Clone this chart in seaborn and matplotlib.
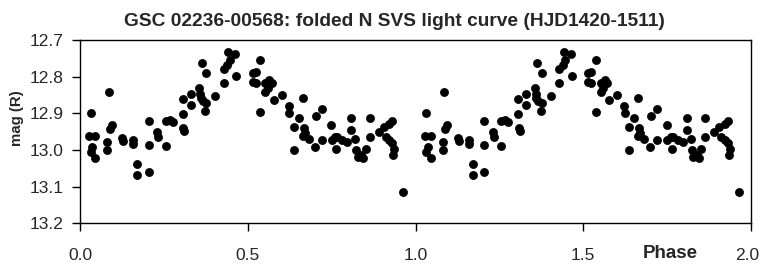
import numpy as np
import pandas as pd
import matplotlib
matplotlib.use("Agg")
import matplotlib.pyplot as plt
import matplotlib.transforms as mtransforms
from matplotlib import font_manager
import seaborn as sns

# Folded light curve, one cycle; plotted twice (phase, phase + 1)
phase = [0.027, 0.032, 0.032, 0.036, 0.046, 0.046, 0.082, 0.082, 0.086, 0.089,
         0.094, 0.126, 0.129, 0.158, 0.158, 0.171, 0.171, 0.205, 0.205, 0.205,
         0.231, 0.233, 0.255, 0.256, 0.268, 0.276, 0.306, 0.306, 0.308, 0.310,
         0.330, 0.330, 0.356, 0.358, 0.360, 0.363, 0.366, 0.373, 0.376, 0.376,
         0.403, 0.428, 0.428, 0.439, 0.442, 0.447, 0.462, 0.465, 0.515, 0.515,
         0.524, 0.524, 0.537, 0.537, 0.552, 0.552, 0.560, 0.564, 0.572, 0.577,
         0.602, 0.622, 0.624, 0.637, 0.637, 0.652, 0.664, 0.664, 0.667, 0.670,
         0.682, 0.700, 0.702, 0.720, 0.720, 0.749, 0.751, 0.761, 0.763, 0.766,
         0.781, 0.796, 0.808, 0.808, 0.821, 0.824, 0.828, 0.838, 0.844, 0.851,
         0.864, 0.864, 0.891, 0.906, 0.911, 0.921, 0.921, 0.931, 0.931, 0.934,
         0.936, 0.964]
mag = [12.962, 12.899, 13.005, 12.993, 12.962, 13.021, 12.978, 13.000, 12.841, 12.944,
       12.932, 12.966, 12.975, 12.973, 12.984, 13.039, 13.069, 13.060, 12.920, 12.987,
       12.950, 12.964, 12.920, 12.990, 12.919, 12.923, 12.902, 12.862, 12.939, 12.948,
       12.848, 12.878, 12.832, 12.846, 12.859, 12.762, 12.866, 12.893, 12.871, 12.789,
       12.853, 12.780, 12.818, 12.768, 12.732, 12.755, 12.738, 12.798, 12.791, 12.814,
       12.787, 12.817, 12.755, 12.896, 12.818, 12.841, 12.832, 12.809, 12.817, 12.864,
       12.850, 12.880, 12.899, 12.937, 12.999, 12.914, 12.859, 12.962, 12.939, 12.953,
       12.969, 12.991, 12.908, 12.889, 12.973, 12.932, 12.973, 12.964, 12.996, 12.964,
       12.973, 12.978, 12.914, 12.946, 12.971, 13.000, 13.019, 13.014, 13.023, 12.996,
       12.914, 12.964, 12.950, 12.937, 12.964, 12.928, 12.973, 12.920, 12.982, 13.014,
       12.996, 13.114]

x_ticks = [0.0, 0.5, 1.0, 1.5, 2.0]
y_ticks = [12.7, 12.8, 12.9, 13.0, 13.1, 13.2]

df = pd.DataFrame({"phase": phase, "mag": mag})
df = pd.concat([df, df.assign(phase=df["phase"] + 1.0)], ignore_index=True)

sns.set_theme(style="white")
plt.rcParams["font.family"] = ["Liberation Sans", "DejaVu Sans"]

# y label looks condensed in the reference; use the narrow face if it is installed
installed = {f.name for f in font_manager.fontManager.ttflist}
if "Liberation Sans Narrow" in installed:
    ylab_family, ylab_size = ["Liberation Sans Narrow", "DejaVu Sans"], 12.5
else:
    ylab_family, ylab_size = ["Liberation Sans", "DejaVu Sans"], 10.8

fig = plt.figure(figsize=(7.61, 2.68), dpi=100)
ax = fig.add_axes([0.1051, 0.1668, 0.8818, 0.6839])

sns.scatterplot(data=df, x="phase", y="mag", color="black", marker="o",
                s=34, edgecolor="black", linewidth=0.5, ax=ax, legend=False)

ax.set_xlim(0, 2.0)
ax.set_ylim(13.2, 12.7)
ax.set_xticks(x_ticks)
ax.set_xticklabels([f"{t:.1f}" for t in x_ticks], fontsize=12.5)
ax.set_yticks(y_ticks)
ax.set_yticklabels([f"{t:.1f}" for t in y_ticks], fontsize=12.5)
ax.tick_params(axis="both", direction="out", length=5.8, width=1, color="black",
               bottom=True, left=True)
ax.tick_params(axis="x", pad=12)
ax.tick_params(axis="y", pad=6)
for sp in ax.spines.values():
    sp.set_color("black")
    sp.set_linewidth(1)

# last x label sits a little inside the right edge, as in the reference
last = ax.get_xticklabels()[-1]
last.set_transform(last.get_transform() +
                   mtransforms.ScaledTranslation(-4 / 100, 0, fig.dpi_scale_trans))

ax.set_xlabel("")
ax.set_ylabel("")
fig.text(17 / 761, 1 - 118 / 268, "mag (R)", rotation=90, fontsize=ylab_size,
         family=ylab_family, fontweight="bold", ha="center", va="center")
fig.text(670 / 761, 1 - 253 / 268, "Phase", fontsize=13.5,
         fontweight="bold", ha="center", va="center")
fig.text(394 / 761, 1 - 21 / 268,
         "GSC 02236-00568: folded N SVS light curve (HJD1420-1511)",
         fontsize=13.8, fontweight="bold", ha="center", va="center")

fig.savefig("out.png", dpi=100)
